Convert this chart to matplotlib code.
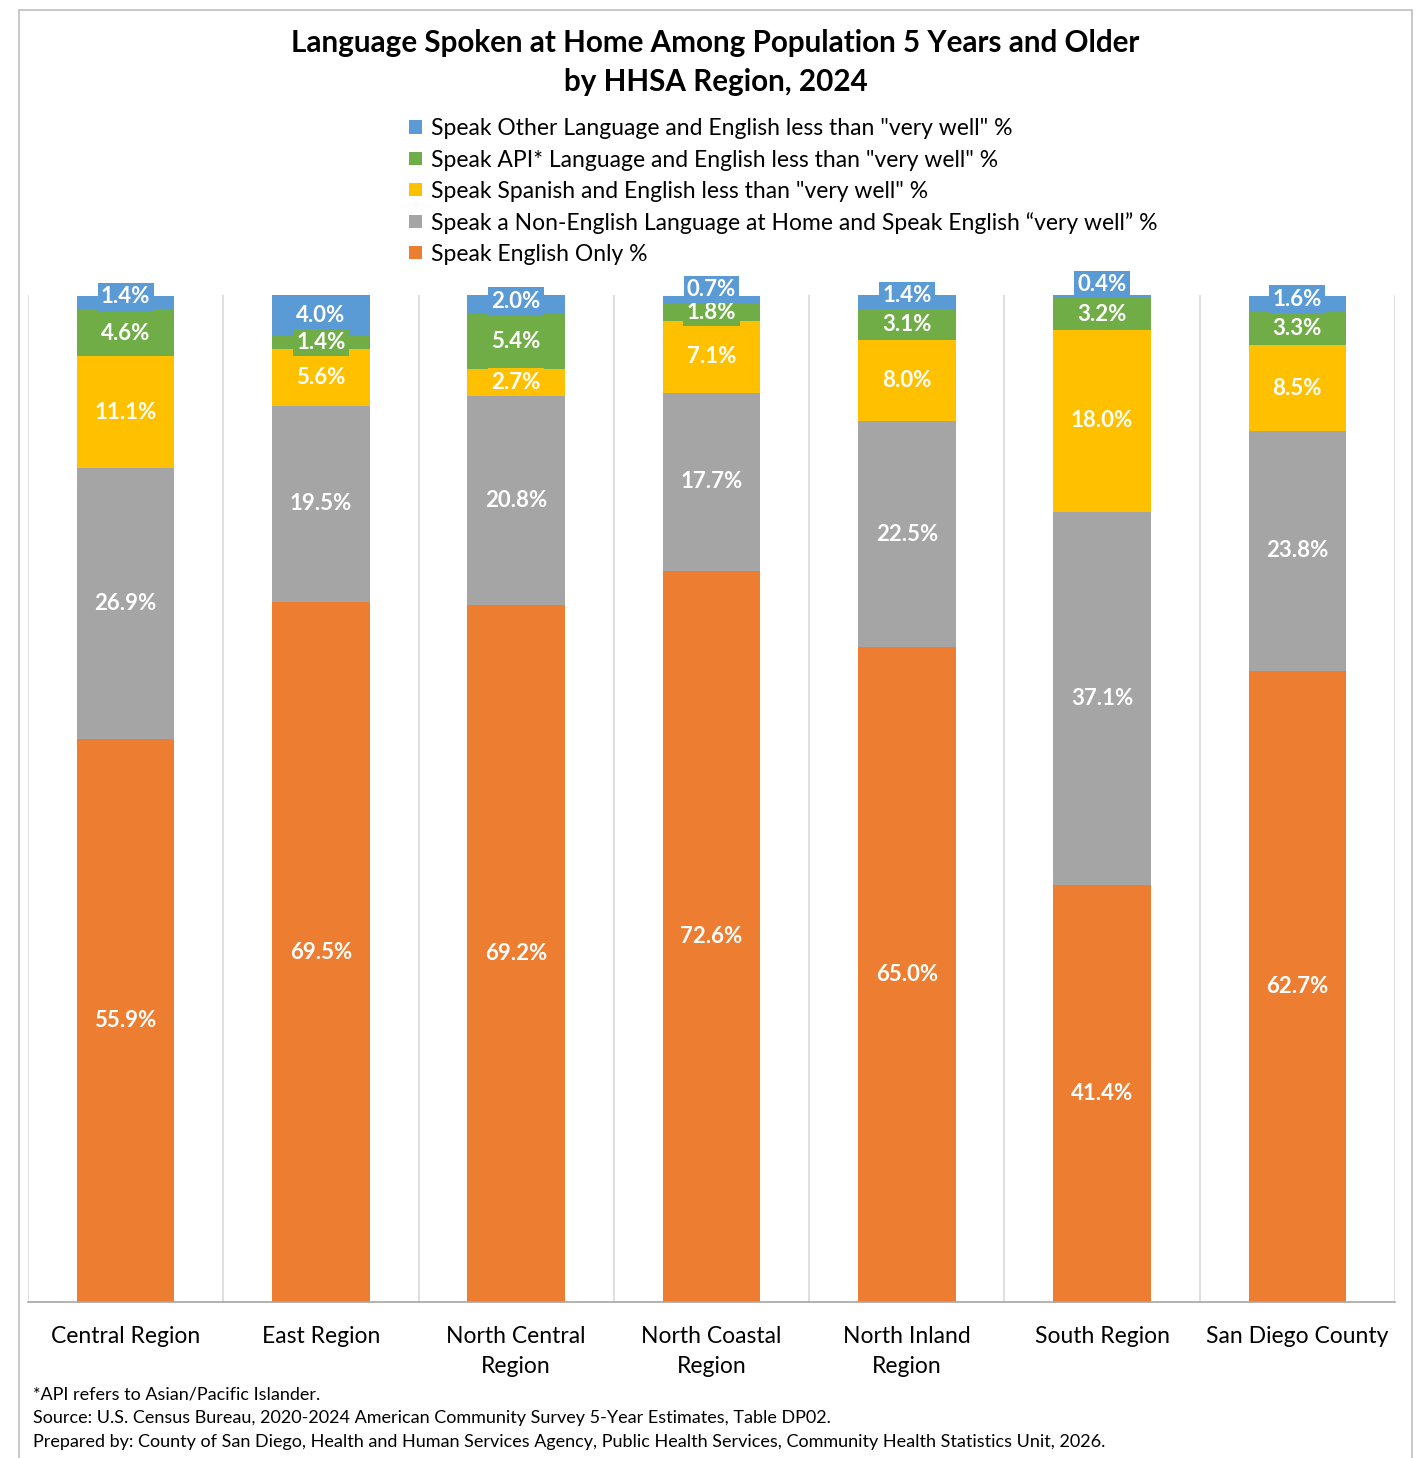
import numpy as np
import matplotlib.pyplot as plt
from matplotlib.patches import Rectangle

# ── DADOS ─────────────────────────────────────────────────────────────────────
regioes = ['Central Region', 'East Region', 'North Central\nRegion', 'North Coastal\nRegion',
           'North Inland\nRegion', 'South Region', 'San Diego County']

ingles_so = [55.9, 69.5, 69.2, 72.6, 65.0, 41.4, 62.7]
nao_ingles_bem = [26.9, 19.5, 20.8, 17.7, 22.5, 37.1, 23.8]
espanhol = [11.1, 5.6, 2.7, 7.1, 8.0, 18.0, 8.5]
api = [4.6, 1.4, 5.4, 1.8, 3.1, 3.2, 3.3]
outra = [1.4, 4.0, 2.0, 0.7, 1.4, 0.4, 1.6]

series = [
    ('Speak English Only %', ingles_so, '#ED7D31'),
    ('Speak a Non-English Language at Home and Speak English \u201cvery well\u201d %', nao_ingles_bem, '#A5A5A5'),
    ('Speak Spanish and English less than "very well" %', espanhol, '#FFC000'),
    ('Speak API* Language and English less than "very well" %', api, '#70AD47'),
    ('Speak Other Language and English less than "very well" %', outra, '#5B9BD5'),
]

notas = [
    '*API refers to Asian/Pacific Islander.',
    'Source: U.S. Census Bureau, 2020-2024 American Community Survey 5-Year Estimates, Table DP02.',
    'Prepared by: County of San Diego, Health and Human Services Agency, Public Health Services, Community Health Statistics Unit, 2026.',
]

# ── PLOT ──────────────────────────────────────────────────────────────────────
plt.rcParams['font.family'] = ['Lato', 'DejaVu Sans']

W, H = 1421, 1458
fig = plt.figure(figsize=(W / 100, H / 100), dpi=100)
ax = fig.add_axes([28 / W, 1 - 1302 / H, (1395 - 28) / W, (1302 - 295) / H])

x = np.arange(len(regioes))
base = np.zeros(len(regioes))
handles = []
for k, (nome, vals, cor) in enumerate(series):
    vals = np.array(vals)
    b = ax.bar(x, vals, 0.5, bottom=base, color=cor, label=nome, zorder=2)
    handles.append(b)
    topo = k == len(series) - 1
    for xi, v, b0 in zip(x, vals, base):
        # rótulos pequenos do topo sobem um pouco (como no Excel)
        dy = max(0, 10 - 4 * v) if topo else 0
        ax.annotate(f'{v:.1f}%', (xi, b0 + v / 2), xytext=(0, dy), textcoords='offset points',
                    ha='center', va='center', color='white', fontsize=16, fontweight='bold',
                    bbox=dict(boxstyle='square,pad=0.15', fc=cor, ec='none'), zorder=3)
    base = base + vals

ax.set_xlim(-0.5, len(regioes) - 0.5)
ax.set_ylim(0, 100)
ax.set_yticks([])
ax.set_xticks(x)
ax.set_xticklabels(regioes, fontsize=16.5, linespacing=1.55)
ax.tick_params(axis='x', length=0, pad=17)
ax.set_xticks(np.arange(-0.5, len(regioes)), minor=True)
ax.tick_params(axis='x', which='minor', length=0)
ax.grid(True, which='minor', axis='x', color='#D9D9D9', lw=1.2, zorder=0)
for s in ['top', 'left', 'right']:
    ax.spines[s].set_visible(False)
ax.spines['bottom'].set_color('#A6A6A6')
ax.spines['bottom'].set_linewidth(1.2)

fig.text(0.5 + 5 / W, 1 - 43 / H, 'Language Spoken at Home Among Population 5 Years and Older',
         ha='center', va='center', fontsize=21.3, fontweight='bold')
fig.text(0.5 + 5 / W, 1 - 82 / H, 'by HHSA Region, 2024',
         ha='center', va='center', fontsize=21.3, fontweight='bold')

fig.legend(handles[::-1], [s[0] for s in series[::-1]], loc='upper left',
           bbox_to_anchor=(398 / W, 1 - 107 / H), frameon=False, fontsize=16.5,
           handlelength=0.55, handleheight=0.55, handletextpad=0.4, labelspacing=0.44,
           borderpad=0)

for i, t in enumerate(notas):
    fig.text(33 / W, 1 - (1394 + 24 * i) / H, t, ha='left', va='center', fontsize=13)

fig.patches.append(Rectangle((19 / W, -0.05), (1412 - 19) / W, 1.05 - 10 / H,
                             transform=fig.transFigure, fill=False, ec='#BFBFBF', lw=1.2))

plt.savefig('out.png', dpi=100)
